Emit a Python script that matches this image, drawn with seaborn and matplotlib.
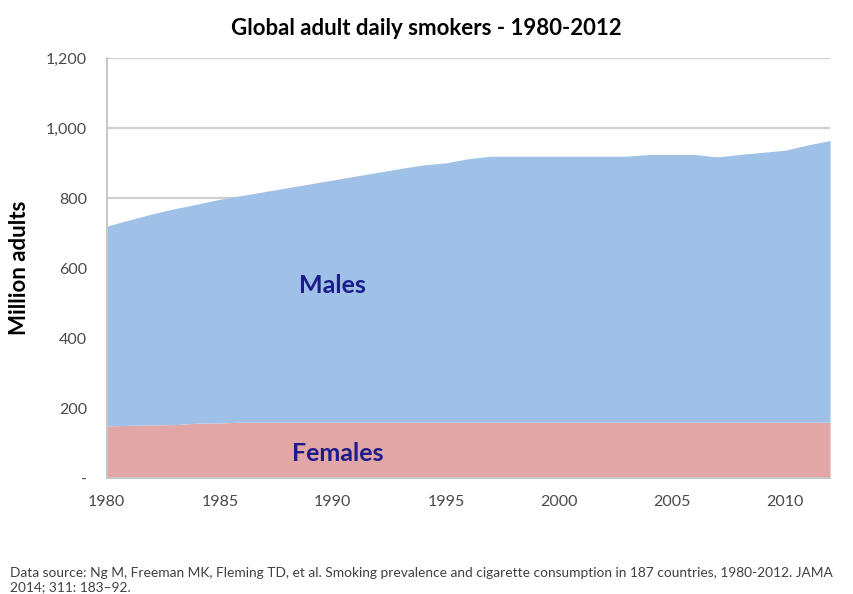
import numpy as np
import matplotlib.pyplot as plt
import matplotlib.ticker as mticker
import seaborn as sns

# Values (million adults)
years = list(range(1980, 2013))
females = [149, 151, 152, 153, 157, 158, 160, 160, 160, 160,
           160, 160, 160, 160, 160, 160, 160, 160, 160, 160,
           160, 160, 160, 160, 160, 160, 160, 160, 160, 160,
           160, 160, 160]
males = [571, 587, 603, 617, 626, 639, 648, 659, 670, 681,
         692, 703, 714, 725, 735, 741, 753, 760, 760, 760,
         760, 760, 760, 760, 765, 765, 765, 758, 765, 771,
         777, 792, 805]
y_ticks = [0, 200, 400, 600, 800, 1000, 1200]
x_ticks = [1980, 1985, 1990, 1995, 2000, 2005, 2010]

sns.set_style("white")
plt.rcParams['font.family'] = ['Lato', 'DejaVu Sans']

fig = plt.figure(figsize=(8.54, 5.94), dpi=100)
ax = fig.add_axes([0.125, 0.195, 0.847, 0.707])

ax.stackplot(years, females, males, colors=['#e3a6a6', '#9fc1e7'], linewidth=0)

ax.set_xlim(1980, 2012)
ax.set_ylim(0, 1200)
ax.set_yticks(y_ticks)
ax.set_xticks(x_ticks)
ax.xaxis.set_minor_locator(mticker.MultipleLocator(1))
ax.yaxis.set_major_formatter(mticker.FuncFormatter(
    lambda v, p: '-' if v == 0 else f'{int(v):,}'))

for y in y_ticks[1:]:
    ax.axhline(y, color='#d0d0d0', lw=1.6, zorder=0)
ax.set_axisbelow(True)

for side in ['top', 'right']:
    ax.spines[side].set_visible(False)
for side in ['left', 'bottom']:
    ax.spines[side].set_color('#c8c8c8')
    ax.spines[side].set_linewidth(1.4)
    ax.spines[side].set_zorder(3)

ax.tick_params(axis='both', which='both', direction='out', color='#c8c8c8',
               labelcolor='#4a4a4a', labelsize=11.5)
ax.tick_params(axis='x', which='major', length=6, width=1.2, pad=6)
ax.tick_params(axis='x', which='minor', length=6, width=1.2)
ax.tick_params(axis='y', which='major', length=6, width=1.2, pad=8)

ax.set_ylabel('Million adults', fontsize=16, fontweight='bold', color='black', labelpad=12)

ax.text(1990, 551, 'Males', color='#1c1c8a', fontsize=18, fontweight='bold',
        ha='center', va='center')
ax.text(1990.2, 71, 'Females', color='#1c1c8a', fontsize=18, fontweight='bold',
        ha='center', va='center')

fig.text(0.499, 0.952, 'Global adult daily smokers - 1980-2012', ha='center', va='center',
         fontsize=16, fontweight='bold', color='black')

fig.text(0.012, 0.002, 'Data source: Ng M, Freeman MK, Fleming TD, et al. Smoking prevalence and cigarette '
         'consumption in 187 countries, 1980-2012. JAMA\n2014; 311: 183\u201392.',
         ha='left', va='bottom', fontsize=9.9, color='#404040', linespacing=1.2)

fig.savefig('out.png', dpi=100)
